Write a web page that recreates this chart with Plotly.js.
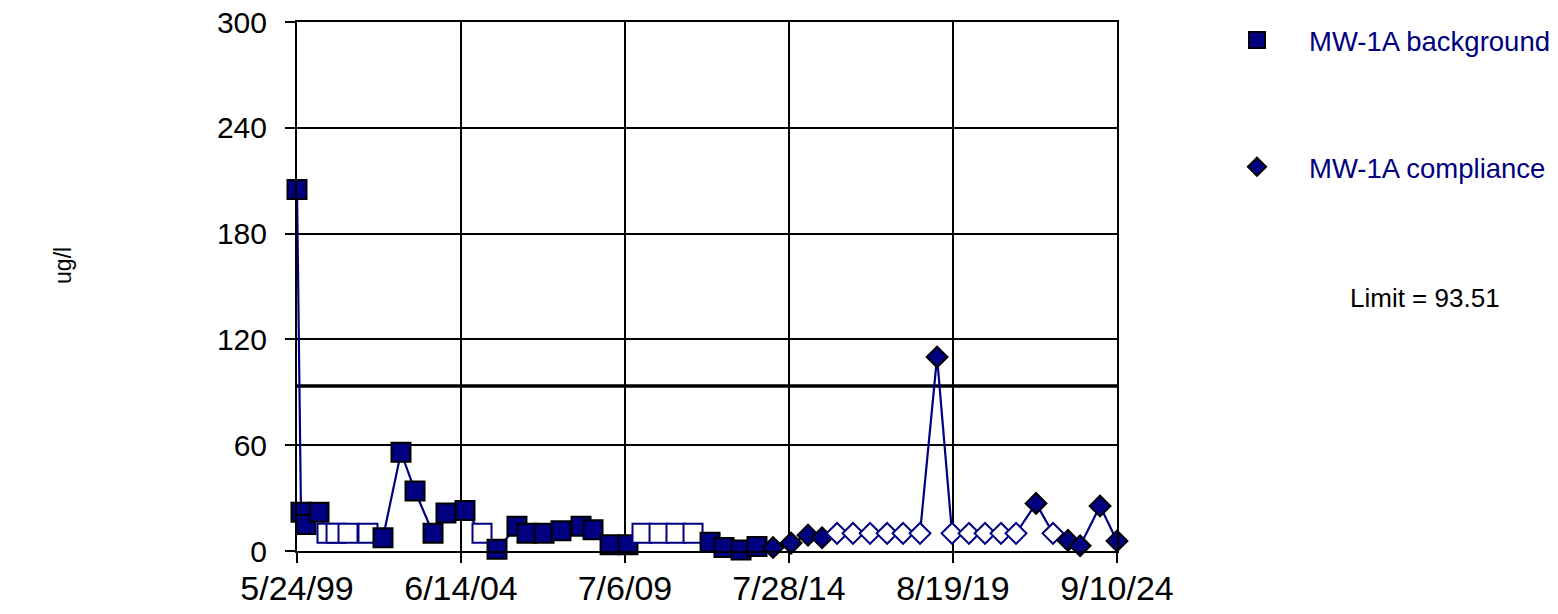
<!DOCTYPE html>
<html>
<head>
<meta charset="utf-8">
<script src="https://cdn.plot.ly/plotly-3.0.1.min.js"></script>
<style>
  html, body { margin: 0; padding: 0; background: #ffffff; }
  #chart { width: 1558px; height: 614px; }
</style>
</head>
<body>
<div id="chart"></div>
<script>
// ---- data ----
const bgDates = ['1999-05-24','1999-07-08','1999-09-02','2000-01-27','2000-04-26','2000-08-06','2000-12-19','2001-08-01',
  '2002-01-17','2002-08-08','2003-01-13','2003-08-04','2003-12-28','2004-07-29','2005-02-06','2005-07-25',
  '2006-03-07','2006-06-28','2007-01-06','2007-07-16','2008-02-27','2008-07-11','2009-01-19','2009-08-09',
  '2010-01-14','2010-07-25','2011-02-01','2011-08-12','2012-02-20','2012-07-26','2013-02-03','2013-08-02'];
const bgValues = [205, 22, 15, 22, 10, 10, 10, 10,
  7.5, 56, 34, 10, 21.5, 23, 10, 1,
  14, 10, 10, 11.5, 14, 12, 3.5, 3.5,
  10, 10, 10, 10, 5, 2, 0.5, 2.5];
const bgDetected = [1,1,1,1,0,0,0,0, 1,1,1,1,1,1,0,1, 1,1,1,1,1,1,1,1, 0,0,0,0,1,1,1,1];

const compDates = ['2014-01-30','2014-08-21','2015-02-28','2015-08-05','2016-01-21','2016-07-19','2017-01-27','2017-08-07',
  '2018-02-03','2018-08-13','2019-02-21','2019-08-09','2020-02-16','2020-08-15','2021-02-11','2021-07-30',
  '2022-03-13','2022-09-20','2023-03-08','2023-07-22','2024-03-03','2024-09-10'];
const compValues = [2, 4.5, 9, 7.5, 10, 10, 10, 10,
  10, 10, 110, 10, 10, 10, 10, 10,
  27, 10, 6, 3, 25.5, 5.7];
const compDetected = [1,1,1,1,0,0,0,0, 0,0,1,0,0,0,0,0, 1,0,1,1,1,1];

const limitValue = 93.51;
const limitText = 'Limit = 93.51';
const seriesNames = ['MW-1A background', 'MW-1A compliance'];
const xTickDates = ['1999-05-24','2004-06-14','2009-07-06','2014-07-28','2019-08-19','2024-09-10'];
const xTickLabels = ['5/24/99','6/14/04','7/6/09','7/28/14','8/19/19','9/10/24'];
const yTicks = [0, 60, 120, 180, 240, 300];
const yTitle = 'ug/l';

// ---- styling ----
const NAVY = '#000080';
const fillFor = d => d.map(v => v ? NAVY : '#ffffff');
const edgeFor = d => d.map(v => v ? '#000000' : NAVY);

const traces = [
  {
    x: [xTickDates[0], xTickDates[xTickDates.length - 1]],
    y: [limitValue, limitValue],
    mode: 'lines', line: {color: '#000000', width: 3.5},
    showlegend: false, hoverinfo: 'skip'
  },
  {
    x: bgDates, y: bgValues, mode: 'lines+markers', name: seriesNames[0],
    line: {color: NAVY, width: 2.2},
    marker: {symbol: 'square', size: 19, color: fillFor(bgDetected),
             line: {color: edgeFor(bgDetected), width: 2}},
    cliponaxis: false, showlegend: false
  },
  {
    x: compDates, y: compValues, mode: 'lines+markers', name: seriesNames[1],
    line: {color: NAVY, width: 2.2},
    marker: {symbol: 'diamond', size: 16, color: fillFor(compDetected),
             line: {color: edgeFor(compDetected), width: 2}},
    cliponaxis: false, showlegend: false
  },
  // legend entries
  {
    x: [null], y: [null], mode: 'markers', name: seriesNames[0], legendgroup: 'a',
    marker: {symbol: 'square', size: 16, color: NAVY, line: {color: '#000000', width: 2}}
  },
  {
    x: [null], y: [null], mode: 'markers', name: seriesNames[1], legendgroup: 'b',
    marker: {symbol: 'diamond', size: 14, color: NAVY, line: {color: '#000000', width: 2}}
  }
];

const layout = {
  width: 1558, height: 614,
  margin: {l: 297, r: 441, t: 22, b: 63, autoexpand: false},
  paper_bgcolor: '#ffffff', plot_bgcolor: '#ffffff',
  font: {family: 'Liberation Sans, Arial, sans-serif', color: '#000000', size: 26},
  xaxis: {
    type: 'date',
    range: [xTickDates[0], xTickDates[xTickDates.length - 1]],
    tickmode: 'array', tickvals: xTickDates, ticktext: xTickLabels,
    showgrid: true, gridcolor: '#000000', gridwidth: 2,
    showline: true, linecolor: '#000000', linewidth: 2, mirror: true,
    ticks: 'outside', ticklen: 10, tickwidth: 2, tickcolor: '#000000',
    tickfont: {size: 34, color: '#000000'},
    ticklabelstandoff: -4,
    zeroline: false, fixedrange: true
  },
  yaxis: {
    range: [0, 300],
    tickmode: 'array', tickvals: yTicks,
    showgrid: true, gridcolor: '#000000', gridwidth: 2,
    showline: true, linecolor: '#000000', linewidth: 2, mirror: true,
    ticks: 'outside', ticklen: 10, tickwidth: 2, tickcolor: '#000000',
    tickfont: {size: 30, color: '#000000'},
    ticklabelstandoff: 12,
    zeroline: false, fixedrange: true
  },
  showlegend: true,
  legend: {
    x: 0.1073, y: 1.012, xanchor: 'left', yanchor: 'top',
    font: {size: 27.5, color: NAVY},
    itemwidth: 94, tracegroupgap: 88,
    bgcolor: 'rgba(0,0,0,0)', borderwidth: 0
  },
  annotations: [
    {
      xref: 'paper', yref: 'paper', x: 1.3756, y: 0.478,
      text: limitText, showarrow: false, xanchor: 'center', yanchor: 'middle',
      font: {size: 26, color: '#000000'}
    },
    {
      xref: 'paper', yref: 'paper', x: -0.2854, y: 0.5407,
      text: yTitle, showarrow: false, textangle: -90, xanchor: 'center', yanchor: 'middle',
      font: {size: 23, color: '#000000'}
    }
  ]
};

// legend placed relative to the right edge of the plot area
layout.legend.x = 1 + layout.legend.x;

Plotly.newPlot('chart', traces, layout, {staticPlot: true, displayModeBar: false});
</script>
</body>
</html>
